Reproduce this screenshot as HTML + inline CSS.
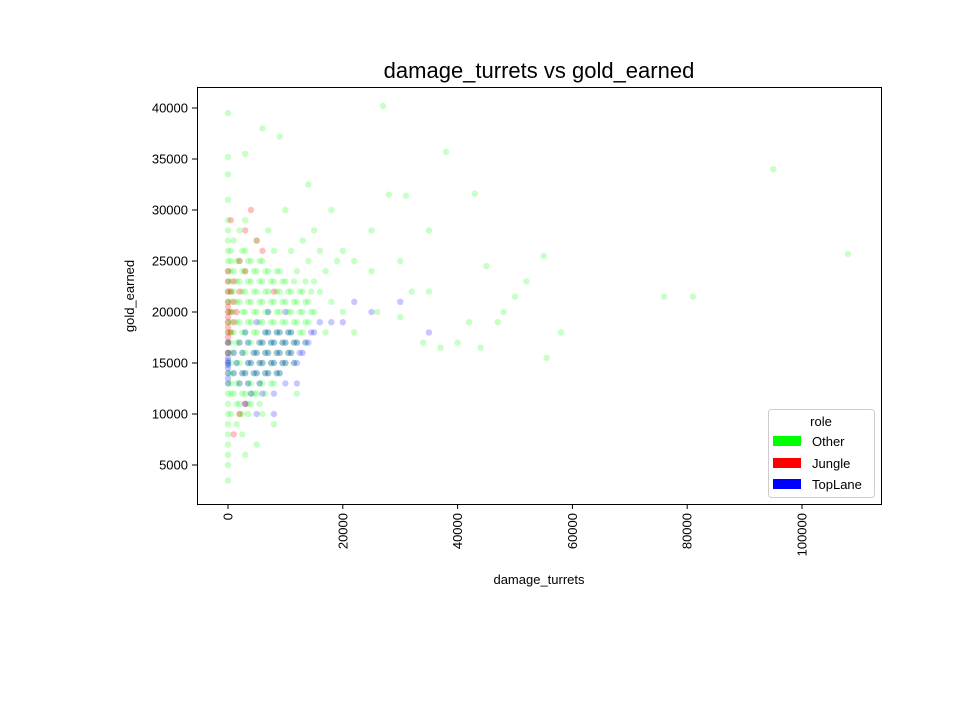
<!DOCTYPE html>
<html>
<head>
<meta charset="utf-8">
<style>
  body { margin:0; background:#fff; }
  svg { display:block; font-family:"Liberation Sans", "DejaVu Sans", sans-serif; }
</style>
</head>
<body>
<svg id="chart" width="980" height="720" viewBox="0 0 980 720">
  <rect width="980" height="720" fill="#fff"/>
  <text x="539" y="78" text-anchor="middle" font-size="22" fill="#000">damage_turrets vs gold_earned</text>
  <g id="points"></g>
  <rect x="197.5" y="87.5" width="684" height="417" fill="none" stroke="#000" stroke-width="1"/>
  <g id="xticks"></g>
  <g id="yticks"></g>
  <text x="539" y="584" text-anchor="middle" font-size="13">damage_turrets</text>
  <text transform="translate(134,296) rotate(-90)" text-anchor="middle" font-size="13">gold_earned</text>
  <g>
    <rect x="768.5" y="409.5" width="106" height="88" rx="3" fill="#fff" fill-opacity="0.8" stroke="#ccc"/>
    <text x="821" y="426" text-anchor="middle" font-size="13">role</text>
    <rect x="773" y="436" width="28" height="10" fill="#00ff00"/>
    <text x="812" y="446" font-size="13">Other</text>
    <rect x="773" y="458" width="28" height="10" fill="#ff0000"/>
    <text x="812" y="468" font-size="13">Jungle</text>
    <rect x="773" y="479" width="28" height="10" fill="#0000ff"/>
    <text x="812" y="489" font-size="13">TopLane</text>
  </g>
</svg>
<script>
// point values in thousands
const xTicks = [0, 20000, 40000, 60000, 80000, 100000];
const yTicks = [5000, 10000, 15000, 20000, 25000, 30000, 35000, 40000];
const otherPts = [
[0,3.5],[0,5],[0,6],[0,7],[0,8],[0,9],[0,10],[0,11],[0,12],[0,13],[0,14],[0,15],[0,16],[0,17],[0,18],[0,19],[0,20],[0,21],[0,22],[0,23],[0,24],[0,25],[0,26],[0,27],[0,28],[0,29],[0,31],[0,33.5],[0,35.2],[0,39.5],
[1,12],[1,14],[1,16],[1,18],[1,20],[1,22],[1,24],[2,11],[2,13],[2,15],[2,17],[2,19],[2,21],[2,23],[2,25],[3,12],[3,14],[3,16],[3,18],[3,20],[3,22],[3,24],[3,26],[4,11],[4,13],[4,15],[4,17],[4,19],[4,21],[4,23],[4,25],[5,12],[5,14],[5,16],[5,18],[5,20],[5,22],[5,24],[5,27],[6,13],[6,15],[6,17],[6,19],[6,21],[6,23],[6,25],[7,14],[7,16],[7,18],[7,20],[7,22],[7,24],[8,13],[8,15],[8,17],[8,19],[8,21],[8,23],[8,26],[9,14],[9,16],[9,18],[9,20],[9,22],[9,24],[10,15],[10,17],[10,19],[10,21],[10,23],[11,16],[11,18],[11,20],[11,22],[12,17],[12,19],[12,21],[12,24],[13,18],[13,20],[13,22],[14,19],[14,21],[14,25],[15,20],[15,23],[16,22],[17,24],[18,21],[19,25],[1.5,9],[2.5,8],[3.5,10],[6,10],[7,28],[11,26],[13,27],[16,26],[0.5,13],[0.5,15],[0.5,17],[0.5,19],[0.5,21],[0.5,23],[0.5,25],[1,27],[2,28],[3,29],
[20,26],[22,25],[25,24],[27,40.2],[28,31.5],[30,25],[32,22],[35,22],[38,35.7],[40,17],[42,19],[45,24.5],[48,20],[50,21.5],[52,23],[55,25.5],[55.5,15.5],[58,18],[76,21.5],[81,21.5],[95,34],[108,25.7],[35,28],[31,31.4],[43,31.6],[25,28],[18,30],[14,32.5],[9,37.2],[6,38],[3,35.5],[10,30],[15,28],[20,20],[17,18],[12,12],[8,9],[5,7],[3,6],[2,10],[4,12],[22,18],[26,20],[30,19.5],[34,17],[37,16.5],[44,16.5],[47,19],
[0.5,10],[0.5,12],[0.5,14],[0.5,16],[0.5,18],[0.5,20],[0.5,22],[0.5,24],[0.5,26],
[1.5,11],[1.5,13],[1.5,15],[1.5,17],[1.5,19],[1.5,21],[1.5,23],[1.5,25],
[2.5,10],[2.5,12],[2.5,14],[2.5,16],[2.5,18],[2.5,20],[2.5,22],[2.5,24],[2.5,26],
[3.5,11],[3.5,13],[3.5,15],[3.5,17],[3.5,19],[3.5,21],[3.5,23],[3.5,25],
[4.5,12],[4.5,14],[4.5,16],[4.5,18],[4.5,20],[4.5,22],[4.5,24],
[5.5,11],[5.5,13],[5.5,15],[5.5,17],[5.5,19],[5.5,21],[5.5,23],[5.5,25],
[6.5,12],[6.5,14],[6.5,16],[6.5,18],[6.5,20],[6.5,22],[6.5,24],
[7.5,13],[7.5,15],[7.5,17],[7.5,19],[7.5,21],[7.5,23],
[8.5,14],[8.5,16],[8.5,18],[8.5,20],[8.5,22],[8.5,24],
[9.5,15],[9.5,17],[9.5,19],[9.5,21],[9.5,23],
[10.5,16],[10.5,18],[10.5,20],[10.5,22],
[11.5,15],[11.5,17],[11.5,19],[11.5,21],[11.5,23],
[12.5,18],[12.5,20],[12.5,22],
[13.5,17],[13.5,19],[13.5,21],[13.5,23],
[14.5,20],[14.5,22]
];
const junglePts = [
[0,16],[0,17],[0,18],[0,19],[0,20],[0,21],[0,22],[0,23],[0,24],[0,17.5],[0,18.5],[0,19.5],[0,20.5],[0.5,18],[0.5,20],[0.5,22],[1,19],[1,21],[1,23],[1.5,20],[2,22],[2,25],[3,24],[3,28],[4,30],[5,27],[2,10],[1,8],[3,11],[6,26],[8,22],[0.5,29]
];
const topPts = [
[2,13],[3,14],[4,15],[5,14],[5,16],[6,15],[6,17],[7,14],[7,16],[7,18],[8,15],[8,17],[9,14],[9,16],[9,18],[10,15],[10,17],[11,16],[11,18],[12,15],[12,17],[13,16],[14,17],[15,18],[16,19],[18,19],[20,19],[4,12],[6,12],[8,12],[10,13],[3,11],[5,10],[8,10],[0,13],[0,14],[0,15],[0,16],[0,17],[0,13.5],[0,14.5],[0,15.5],[1,14],[1,16],[2,17],[3,18],[22,21],[25,20],[30,21],[35,18],[12,13],[10,20],[7,20],[5,19],
[1.5,15],[2.5,14],[2.5,16],[3.5,13],[3.5,15],[3.5,17],[4.5,14],[4.5,16],[5.5,13],[5.5,15],[5.5,17],[6.5,14],[6.5,16],[6.5,18],[7.5,15],[7.5,17],[8.5,14],[8.5,16],[8.5,18],[9.5,15],[9.5,17],[10.5,16],[10.5,18],[11.5,15],[11.5,17],[12.5,16],[13.5,17],[14.5,18],[0,15.2],[0,14.8]
];

const NS = 'http://www.w3.org/2000/svg';
function xScale(v) { return 228 + v * 574 / 100000; }
function yScale(v) { return 516 - v * 357 / 35000; }

const pts = document.getElementById('points');
function drawSeries(arr, color, opacity, name) {
  arr.forEach(function (p) {
    const c = document.createElementNS(NS, 'circle');
    c.setAttribute('cx', xScale(p[0] * 1000));
    c.setAttribute('cy', yScale(p[1] * 1000));
    c.setAttribute('r', 3.2);
    c.setAttribute('fill', color);
    c.setAttribute('fill-opacity', opacity);
    
    
    pts.appendChild(c);
  });
}
drawSeries(otherPts, '#00ff00', 0.22, 'point-other');
drawSeries(junglePts, '#ff0000', 0.25, 'point-jungle');
drawSeries(topPts, '#0000ff', 0.22, 'point-toplane');

const xg = document.getElementById('xticks');
xTicks.forEach(function (t) {
  const x = xScale(t);
  const l = document.createElementNS(NS, 'line');
  l.setAttribute('x1', x); l.setAttribute('x2', x);
  l.setAttribute('y1', 504); l.setAttribute('y2', 509);
  l.setAttribute('stroke', '#000');
  
  
  xg.appendChild(l);
  const tx = document.createElementNS(NS, 'text');
  tx.setAttribute('transform', 'translate(' + (x + 4.5) + ',513) rotate(-90)');
  tx.setAttribute('text-anchor', 'end');
  tx.setAttribute('font-size', '13');
  tx.textContent = String(t);
  
  
  xg.appendChild(tx);
});

const yg = document.getElementById('yticks');
yTicks.forEach(function (t) {
  const y = yScale(t);
  const l = document.createElementNS(NS, 'line');
  l.setAttribute('x1', 192); l.setAttribute('x2', 197);
  l.setAttribute('y1', y); l.setAttribute('y2', y);
  l.setAttribute('stroke', '#000');
  
  
  yg.appendChild(l);
  const tx = document.createElementNS(NS, 'text');
  tx.setAttribute('x', 188);
  tx.setAttribute('y', y + 4.5);
  tx.setAttribute('text-anchor', 'end');
  tx.setAttribute('font-size', '13');
  tx.textContent = String(t);
  
  
  yg.appendChild(tx);
});
</script>
</body>
</html>
